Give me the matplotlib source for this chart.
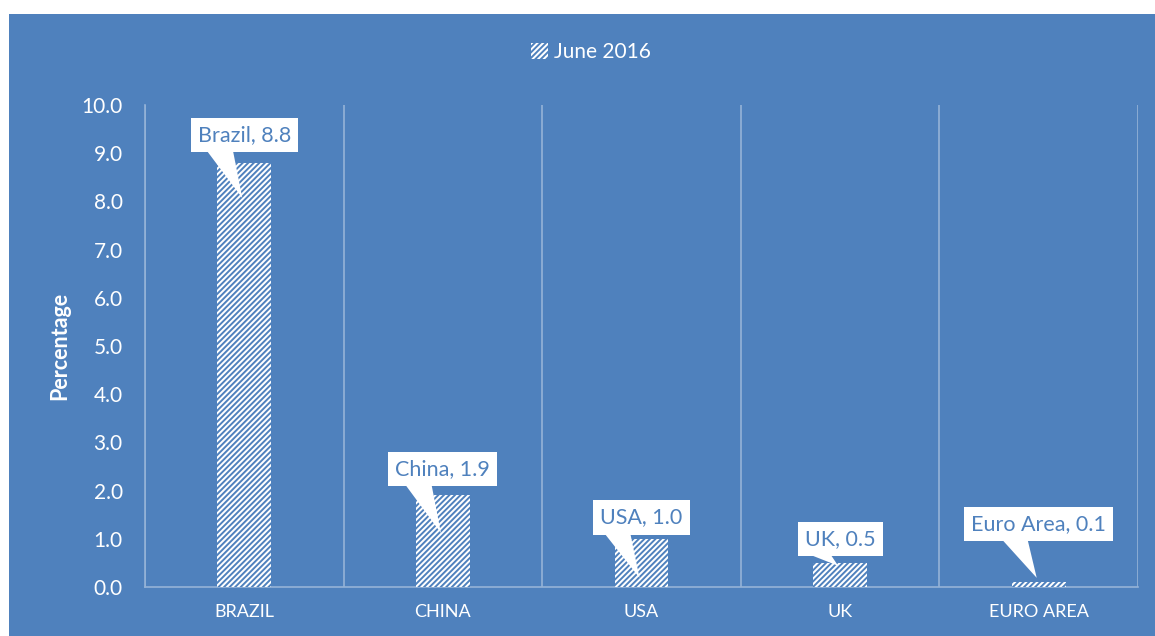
import matplotlib.pyplot as plt
from matplotlib.patches import Rectangle, Polygon
from matplotlib.transforms import IdentityTransform
import numpy as np

plt.rcParams['font.family'] = ['Lato', 'DejaVu Sans']
plt.rcParams['hatch.linewidth'] = 1.4

categories = ['BRAZIL', 'CHINA', 'USA', 'UK', 'EURO AREA']
label_names = ['Brazil', 'China', 'USA', 'UK', 'Euro Area']
june_2016 = [8.8, 1.9, 1.0, 0.5, 0.1]

# callout box centres and pointer tips (data units)
box_y = [9.37, 2.44, 1.44, 1.0, 1.31]
tip_y = [8.07, 1.12, 0.19, 0.44, 0.19]

bg = '#4F81BD'
grid_col = '#95B3D7'

fig = plt.figure(figsize=(11.55, 6.36), dpi=100)
fig.patch.set_facecolor('white')
fig.patches.append(Rectangle((9 / 1155, 0), 1 - 9 / 1155, 1 - 14 / 636,
                             transform=fig.transFigure, facecolor=bg,
                             edgecolor='none', zorder=-10))

ax = fig.add_axes([145 / 1155, 1 - 587 / 636, (1138 - 145) / 1155, (587 - 105) / 636])
ax.set_facecolor('none')

x = np.arange(len(categories))
bars = ax.bar(x, june_2016, width=0.27, color='white', edgecolor=bg,
              linewidth=0, hatch='//////', label='June 2016', zorder=3)

ax.set_xlim(-0.5, len(categories) - 0.5)
ax.set_ylim(0, 10)
ax.set_yticks(np.arange(0, 10.5, 1.0))
ax.set_yticklabels([f'{v:.1f}' for v in np.arange(0, 10.5, 1.0)], color='white', fontsize=15)
ax.set_xticks(x)
ax.set_xticklabels(categories, color='white', fontsize=13)
ax.set_xticks(np.arange(-0.5, len(categories), 1.0), minor=True)
ax.tick_params(axis='both', which='both', length=0)
ax.tick_params(axis='x', pad=12)
ax.tick_params(axis='y', pad=16)
ax.grid(axis='x', which='minor', color=grid_col, linewidth=1.2, zorder=0)
ax.grid(axis='x', which='major', visible=False)

for s in ['top', 'right']:
    ax.spines[s].set_visible(False)
for s in ['left', 'bottom']:
    ax.spines[s].set_color(grid_col)
    ax.spines[s].set_linewidth(1.2)

ax.set_ylabel('Percentage', color='white', fontsize=15.5, fontweight='bold', labelpad=8)

# callout labels: white box plus a wedge whose base sits left of centre
for xi, v, name, by, ty in zip(x, june_2016, label_names, box_y, tip_y):
    ax.text(xi, by, f'{name}, {v:.1f}', ha='center', va='center',
            fontsize=15.5, color=bg, zorder=6,
            bbox=dict(boxstyle='square,pad=0.33', fc='white', ec='none'))
    cx, cy = ax.transData.transform((xi, by))
    tx, ty_px = ax.transData.transform((xi - 0.01, ty))
    base_y = cy - 12
    wedge = Polygon([(cx - 40, base_y), (cx - 12, base_y), (tx, ty_px)],
                    closed=True, transform=IdentityTransform(),
                    facecolor='white', edgecolor='none', zorder=5)
    ax.add_artist(wedge)

leg = fig.legend(handles=[bars], labels=['June 2016'], loc='center',
                 bbox_to_anchor=(0.512, 1 - 52 / 636), frameon=False, fontsize=15,
                 handlelength=0.8, handleheight=0.8, handletextpad=0.3)
for t in leg.get_texts():
    t.set_color('white')

plt.savefig('out.png', dpi=100, facecolor=fig.get_facecolor())
